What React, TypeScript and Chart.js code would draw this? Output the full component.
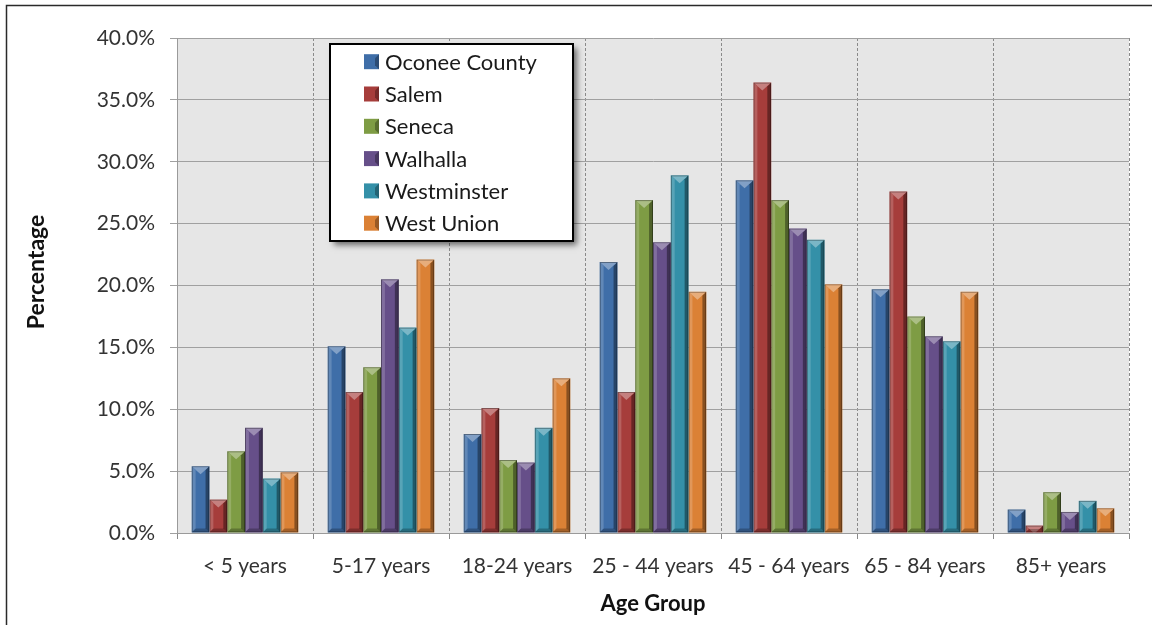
import React, { useEffect, useRef } from 'react';
import { Chart, registerables } from 'chart.js';

Chart.register(...registerables);

const categories = ['< 5 years', '5-17 years', '18-24 years', '25 - 44 years', '45 - 64 years', '65 - 84 years', '85+ years'];
const seriesNames = ['Oconee County', 'Salem', 'Seneca', 'Walhalla', 'Westminster', 'West Union'];
const oconee = [5.4, 15.1, 8.0, 21.9, 28.5, 19.7, 1.9];
const salem = [2.7, 11.4, 10.1, 11.4, 36.4, 27.6, 0.6];
const seneca = [6.6, 13.4, 5.9, 26.9, 26.9, 17.5, 3.3];
const walhalla = [8.5, 20.5, 5.7, 23.5, 24.6, 15.9, 1.7];
const westminster = [4.4, 16.6, 8.5, 28.9, 23.7, 15.5, 2.6];
const westUnion = [4.9, 22.1, 12.5, 19.5, 20.1, 19.5, 2.0];
const seriesColors = ['#3F6EA8', '#A63D3B', '#7E9C44', '#664F89', '#3490A8', '#DB8135'];
const yTicks = [0, 5, 10, 15, 20, 25, 30, 35, 40];

const FONT = 'Lato, "Open Sans", sans-serif';

const backgroundPlugin = {
  id: 'bgPlugin',
  beforeDraw(chart: any) {
    const { ctx, chartArea } = chart;
    ctx.save();
    ctx.fillStyle = '#ffffff';
    ctx.fillRect(0, 0, chart.width, chart.height);
    ctx.strokeStyle = '#2a2a2a';
    ctx.lineWidth = 1.5;
    ctx.strokeRect(6.5, 5.5, chart.width + 20, chart.height + 20);
    ctx.fillStyle = '#E6E6E6';
    ctx.fillRect(chartArea.left, chartArea.top, chartArea.right - chartArea.left, chartArea.bottom - chartArea.top);
    ctx.restore();
  },
};

const bevelPlugin = {
  id: 'bevelPlugin',
  afterDatasetsDraw(chart: any) {
    const { ctx } = chart;
    chart.data.datasets.forEach((ds: any, di: number) => {
      const meta = chart.getDatasetMeta(di);
      meta.data.forEach((bar: any) => {
        const w = bar.width;
        const l = bar.x - w / 2;
        const r = bar.x + w / 2;
        const top = Math.min(bar.y, bar.base);
        const bot = Math.max(bar.y, bar.base);
        const h = bot - top;
        if (h <= 0) return;
        const b = Math.min(w * 0.22, h / 2);
        ctx.save();
        ctx.beginPath();
        ctx.rect(l, top, w, h);
        ctx.clip();
        ctx.fillStyle = 'rgba(255,255,255,0.18)';
        ctx.beginPath();
        ctx.moveTo(l, top); ctx.lineTo(l + b, top + b); ctx.lineTo(l + b, bot - b); ctx.lineTo(l, bot); ctx.closePath();
        ctx.fill();
        ctx.fillStyle = 'rgba(0,0,0,0.38)';
        ctx.beginPath();
        ctx.moveTo(r, top); ctx.lineTo(r - b, top + b); ctx.lineTo(r - b, bot - b); ctx.lineTo(r, bot); ctx.closePath();
        ctx.fill();
        ctx.fillStyle = 'rgba(255,255,255,0.35)';
        ctx.beginPath();
        ctx.moveTo(l, top); ctx.lineTo(r, top); ctx.lineTo(bar.x, top + w * 0.45); ctx.closePath();
        ctx.fill();
        ctx.fillStyle = 'rgba(0,0,0,0.25)';
        ctx.beginPath();
        ctx.moveTo(l, bot); ctx.lineTo(r, bot); ctx.lineTo(r - b, bot - b); ctx.lineTo(l + b, bot - b); ctx.closePath();
        ctx.fill();
        ctx.strokeStyle = 'rgba(0,0,0,0.35)';
        ctx.lineWidth = 1;
        ctx.strokeRect(l + 0.5, top + 0.5, w - 1, h - 1);
        ctx.restore();
      });
    });
  },
};

const titlesLegendPlugin = {
  id: 'titlesLegend',
  afterDraw(chart: any) {
    const { ctx, chartArea } = chart;
    ctx.save();
    ctx.fillStyle = '#111';
    ctx.font = 'bold 23px ' + FONT;
    ctx.textAlign = 'center';
    ctx.textBaseline = 'middle';
    ctx.translate(37, 272);
    ctx.rotate(-Math.PI / 2);
    ctx.fillText('Percentage', 0, 0);
    ctx.restore();
    ctx.save();
    ctx.fillStyle = '#111';
    ctx.font = 'bold 22px ' + FONT;
    ctx.textAlign = 'center';
    ctx.textBaseline = 'middle';
    ctx.fillText('Age Group', (chartArea.left + chartArea.right) / 2, 604);
    ctx.restore();

    const bx = 330, by = 44, bw = 243, bh = 197;
    ctx.save();
    ctx.shadowColor = 'rgba(0,0,0,0.55)';
    ctx.shadowBlur = 6;
    ctx.shadowOffsetX = 4;
    ctx.shadowOffsetY = 4;
    ctx.fillStyle = '#ffffff';
    ctx.fillRect(bx, by, bw, bh);
    ctx.restore();
    ctx.save();
    ctx.strokeStyle = '#000';
    ctx.lineWidth = 2;
    ctx.strokeRect(bx, by, bw, bh);
    chart.data.datasets.forEach((ds: any, i: number) => {
      const cy = 61.7 + i * 32.3;
      ctx.fillStyle = ds.backgroundColor;
      ctx.fillRect(364, cy - 7.5, 15, 15);
      ctx.fillStyle = 'rgba(0,0,0,0.3)';
      ctx.beginPath();
      ctx.moveTo(379, cy - 7.5); ctx.lineTo(375, cy - 3.5); ctx.lineTo(375, cy + 3.5); ctx.lineTo(379, cy + 7.5); ctx.closePath();
      ctx.fill();
      ctx.fillStyle = '#1a1a1a';
      ctx.font = '22px ' + FONT;
      ctx.textAlign = 'left';
      ctx.textBaseline = 'middle';
      ctx.fillText(ds.label, 385, cy + 1);
    });
    ctx.restore();
  },
};

export default function App() {
  const ref = useRef<HTMLCanvasElement>(null);
  useEffect(() => {
    if (!ref.current) return;
    const seriesData = [oconee, salem, seneca, walhalla, westminster, westUnion];
    const chart = new Chart(ref.current, {
      type: 'bar',
      data: {
        labels: categories,
        datasets: seriesNames.map((name, i) => ({
          label: name,
          data: seriesData[i],
          backgroundColor: seriesColors[i],
          borderWidth: 0,
          barPercentage: 1,
          categoryPercentage: 0.784,
        })),
      },
      options: {
        responsive: false,
        animation: false,
        layout: { padding: { top: 38, right: 23, left: 0, bottom: 0 } },
        plugins: {
          legend: { display: false },
          tooltip: { enabled: false },
          title: { display: false },
        },
        scales: {
          x: {
            offset: true,
            grid: {
              offset: true,
              color: '#8a8a8a',
              lineWidth: 1,
              tickLength: 6,
              drawTicks: true,
            },
            border: { display: true, color: '#9a9a9a', width: 1, dash: [3, 2] },
            ticks: {
              color: '#333',
              font: { family: FONT, size: 21 },
              padding: 15,
              maxRotation: 0,
              autoSkip: false,
            },
            afterFit(scale: any) { scale.height = 92; },
          },
          y: {
            min: 0,
            max: 40,
            afterBuildTicks(scale: any) { scale.ticks = yTicks.map((v) => ({ value: v })); },
            grid: { color: '#a0a0a0', lineWidth: 1, tickLength: 7 },
            border: { display: true, color: '#9a9a9a', width: 1 },
            ticks: {
              color: '#333',
              font: { family: FONT, size: 21 },
              padding: 15,
              callback: (v: any) => Number(v).toFixed(1) + '%',
            },
            afterFit(scale: any) { scale.width = 177; },
          },
        },
      },
      plugins: [backgroundPlugin, bevelPlugin, titlesLegendPlugin],
    });
    return () => chart.destroy();
  }, []);
  return (
    <div style={{ position: 'fixed', left: 0, top: 0, width: 1152, height: 625 }}>
      <canvas ref={ref} width={1152} height={625} style={{ display: 'block' }} />
    </div>
  );
}
